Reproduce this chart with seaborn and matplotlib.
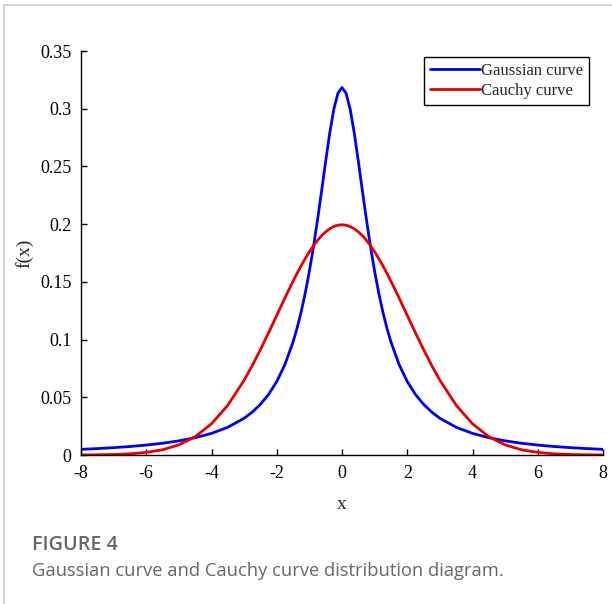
import matplotlib
matplotlib.use("Agg")
import matplotlib.pyplot as plt
import seaborn as sns
import pandas as pd
from matplotlib.lines import Line2D

# x positions (right half; mirrored for the left half)
x_half = [0, 0.125, 0.25, 0.375, 0.5, 0.625, 0.75, 0.875, 1.0, 1.125, 1.25, 1.375,
          1.5, 1.75, 2.0, 2.25, 2.5, 2.75, 3.0, 3.5, 4.0, 4.5, 5.0, 5.5, 6.0,
          6.5, 7.0, 7.5, 8.0]
# blue curve ("Gaussian curve") values
gauss_half = [0.31831, 0.31341, 0.29959, 0.27906, 0.25465, 0.22890, 0.20372, 0.18028,
              0.15915, 0.14049, 0.12422, 0.11012, 0.09794, 0.07835, 0.06366, 0.05251,
              0.04390, 0.03718, 0.03183, 0.02402, 0.01872, 0.01498, 0.01224, 0.01019,
              0.00860, 0.00736, 0.00637, 0.00556, 0.00490]
# red curve ("Cauchy curve") values
cauchy_half = [0.19947, 0.19908, 0.19792, 0.19600, 0.19333, 0.18996, 0.18593, 0.18127,
               0.17603, 0.17028, 0.16408, 0.15749, 0.15057, 0.13603, 0.12099, 0.10594,
               0.09132, 0.07751, 0.06476, 0.04314, 0.02700, 0.01587, 0.00877, 0.00455,
               0.00222, 0.00101, 0.00044, 0.00018, 0.00007]

x_vals = [-v for v in x_half[:0:-1]] + x_half
gauss_vals = gauss_half[:0:-1] + gauss_half
cauchy_vals = cauchy_half[:0:-1] + cauchy_half

x_ticks = [-8, -6, -4, -2, 0, 2, 4, 6, 8]
y_ticks = [0, 0.05, 0.1, 0.15, 0.2, 0.25, 0.3, 0.35]
y_ticklabels = ["0", "0.05", "0.1", "0.15", "0.2", "0.25", "0.3", "0.35"]

df = pd.DataFrame({"x": x_vals + x_vals,
                   "y": gauss_vals + cauchy_vals,
                   "curve": ["Gaussian curve"] * len(x_vals) + ["Cauchy curve"] * len(x_vals)})

sns.set_style("white")
plt.rcParams["font.family"] = ["Liberation Serif", "DejaVu Serif"]

fig = plt.figure(figsize=(6.12, 6.04), dpi=100)
ax = fig.add_axes([81 / 612, 1 - 455 / 604, 522 / 612, 404 / 604])

palette = {"Gaussian curve": "#0000f0", "Cauchy curve": "#e60000"}
sns.lineplot(data=df, x="x", y="y", hue="curve", palette=palette, ax=ax,
             linewidth=2.0, sort=False, legend=False)

ax.set_xlim(-8, 8)
ax.set_ylim(0, 0.35)
ax.set_xticks(x_ticks)
ax.set_xticklabels([str(t) for t in x_ticks])
ax.set_yticks(y_ticks)
ax.set_yticklabels(y_ticklabels)
ax.tick_params(axis="both", which="major", bottom=True, left=True, direction="in",
               length=4, width=1, labelsize=13, colors="black", pad=7)
for s in ["top", "right"]:
    ax.spines[s].set_visible(False)
for s in ["left", "bottom"]:
    ax.spines[s].set_color("black")
    ax.spines[s].set_linewidth(1.0)
ax.set_xlabel("x", fontsize=14, labelpad=10)
ax.set_ylabel("f(x)", fontsize=14, labelpad=5)

handles = [Line2D([], [], color=palette["Gaussian curve"], lw=2.0),
           Line2D([], [], color=palette["Cauchy curve"], lw=2.0)]
leg = ax.legend(handles, ["Gaussian curve", "Cauchy curve"], loc="upper right",
                bbox_to_anchor=(0.98, 0.993), fontsize=12, frameon=True, fancybox=False,
                edgecolor="black", framealpha=1, borderpad=0.35, labelspacing=0.25,
                handlelength=3.0, handletextpad=0.1, borderaxespad=0.2)
leg.get_frame().set_linewidth(1.0)

# figure frame lines
fig.add_artist(Line2D([4 / 612, 1], [1 - 5 / 604, 1 - 5 / 604], color="#cccccc",
                      lw=1.2, transform=fig.transFigure))
fig.add_artist(Line2D([4 / 612, 4 / 612], [0, 1 - 5 / 604], color="#cccccc",
                      lw=1.2, transform=fig.transFigure))

fig.text(32 / 612, 1 - 545 / 604, "FIGURE 4", family="Open Sans", fontweight="semibold",
         fontsize=14.2, color="#666666", va="center", ha="left")
fig.text(32 / 612, 1 - 571 / 604, "Gaussian curve and Cauchy curve distribution diagram.",
         family="Open Sans", fontsize=13.2, color="#666666", va="center", ha="left")

fig.savefig("out.png", dpi=100)
